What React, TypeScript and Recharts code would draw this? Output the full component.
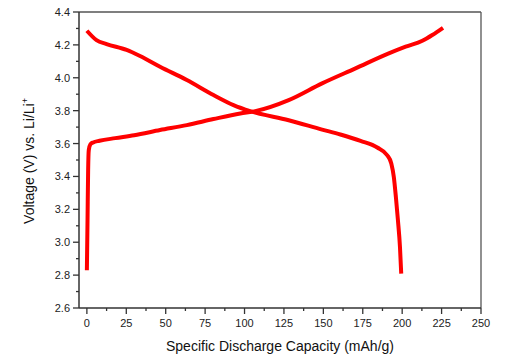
import { Label, Line, LineChart, ReferenceLine, XAxis, YAxis } from "recharts";

// charge curve (mAh/g, V)
const chargeCap = [0, 0.4, 0.8, 1.2, 2.2, 4, 8, 18, 30, 46.4, 63.4, 80.3, 97.3, 106.8, 128, 149.2, 170.4, 191.5, 202.2, 212.8, 219.1, 225.9];
const chargeV = [2.83, 3.13, 3.44, 3.56, 3.595, 3.607, 3.617, 3.633, 3.651, 3.682, 3.712, 3.749, 3.783, 3.797, 3.864, 3.966, 4.057, 4.148, 4.189, 4.225, 4.26, 4.304];

// discharge curve
const dischargeCap = [0, 6.1, 12.5, 25.2, 33.7, 46.4, 63.4, 80.3, 93, 103.6, 128, 149.2, 160.8, 173.6, 184.2, 190.5, 193.1, 194.7, 196, 197.3, 198.6, 199.4];
const dischargeV = [4.286, 4.229, 4.205, 4.169, 4.132, 4.067, 3.986, 3.895, 3.834, 3.797, 3.742, 3.685, 3.655, 3.616, 3.576, 3.529, 3.479, 3.397, 3.276, 3.134, 2.971, 2.809];

const xTicks = [0, 12.5, 25, 37.5, 50, 62.5, 75, 87.5, 100, 112.5, 125, 137.5, 150, 162.5, 175, 187.5, 200, 212.5, 225, 237.5, 250];
const yTicks = [2.6, 2.7, 2.8, 2.9, 3.0, 3.1, 3.2, 3.3, 3.4, 3.5, 3.6, 3.7, 3.8, 3.9, 4.0, 4.1, 4.2, 4.3, 4.4];

const chargeData = chargeCap.map((cap, i) => ({ cap, v: chargeV[i] }));
const dischargeData = dischargeCap.map((cap, i) => ({ cap, v: dischargeV[i] }));

const AXIS = "#333";
const FONT = "'Liberation Sans', Arial, sans-serif";

function XTick({ x, y, payload }: any) {
  const major = Math.round(payload.value * 10) % 250 === 0;
  return (
    <g>
      <line x1={x} x2={x} y1={y} y2={y + (major ? 6 : 3)} stroke={AXIS} strokeWidth={1.3} />
      {major && (
        <text x={x} y={y + 19} textAnchor="middle" fontSize={11} fontFamily={FONT} fill="#222">
          {payload.value}
        </text>
      )}
    </g>
  );
}

function YTick({ x, y, payload }: any) {
  const major = Math.round(payload.value * 10) % 2 === 0;
  return (
    <g>
      <line x1={x} x2={x - (major ? 6 : 3)} y1={y} y2={y} stroke={AXIS} strokeWidth={1.3} />
      {major && (
        <text x={x - 9} y={y} dy="0.36em" textAnchor="end" fontSize={11} fontFamily={FONT} fill="#222">
          {payload.value.toFixed(1)}
        </text>
      )}
    </g>
  );
}

export default function App() {
  return (
    <div style={{ marginTop: -8 }}>
      <LineChart width={494} height={356} margin={{ top: 12, right: 21, left: 11, bottom: 0 }}>
        <XAxis
          type="number"
          dataKey="cap"
          domain={[-5, 250]}
          ticks={xTicks}
          interval={0}
          tickSize={0}
          tickMargin={0}
          tick={<XTick />}
          tickLine={false}
          axisLine={{ stroke: AXIS, strokeWidth: 1.5 }}
          height={48}
          allowDataOverflow
        >
          <Label
            content={() => (
              <text x={272} y={351} textAnchor="middle" fontSize={14} fontFamily={FONT} fill="#111">
                Specific Discharge Capacity (mAh/g)
              </text>
            )}
          />
        </XAxis>
        <YAxis
          type="number"
          dataKey="v"
          domain={[2.6, 4.4]}
          ticks={yTicks}
          interval={0}
          tickSize={0}
          tickMargin={0}
          tick={<YTick />}
          tickLine={false}
          axisLine={{ stroke: AXIS, strokeWidth: 1.5 }}
          width={60}
          allowDataOverflow
        >
          <Label
            content={() => (
              <text
                x={26}
                y={161}
                textAnchor="middle"
                fontSize={14}
                fontFamily={FONT}
                fill="#111"
                transform="rotate(-90, 26, 161)"
              >
                Voltage (V) vs. Li/Li
                <tspan fontSize={9} dy={-6}>+</tspan>
              </text>
            )}
          />
        </YAxis>
        <ReferenceLine y={4.4} stroke="#555" strokeWidth={1.3} />
        <ReferenceLine x={250} stroke="#555" strokeWidth={1.3} />
        <Line
          data={chargeData}
          dataKey="v"
          type="monotone"
          stroke="#ff0000"
          strokeWidth={4}
          dot={false}
          activeDot={false}
          isAnimationActive={false}
        />
        <Line
          data={dischargeData}
          dataKey="v"
          type="monotone"
          stroke="#ff0000"
          strokeWidth={4}
          dot={false}
          activeDot={false}
          isAnimationActive={false}
        />
      </LineChart>
    </div>
  );
}
